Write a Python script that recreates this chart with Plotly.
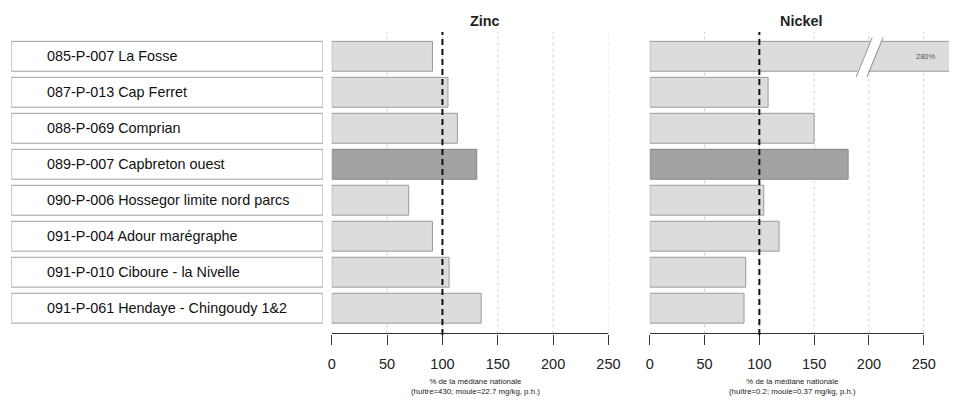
import plotly.graph_objects as go

# ---------------- data ----------------
stations = [
    "085-P-007 La Fosse",
    "087-P-013 Cap Ferret",
    "088-P-069 Comprian",
    "089-P-007 Capbreton ouest",
    "090-P-006 Hossegor limite nord parcs",
    "091-P-004 Adour marégraphe",
    "091-P-010 Ciboure - la Nivelle",
    "091-P-061 Hendaye - Chingoudy 1&2",
]
zinc = [91, 105, 113.5, 131, 69.5, 91, 106, 135]
nickel = [280, 108, 150, 181, 104, 118, 87.5, 86]
highlight = "089-P-007 Capbreton ouest"
tick_vals = [0, 50, 100, 150, 200, 250]
grid_vals = [50, 100, 150, 200, 250]
reference_line = 100
zinc_title = "Zinc"
nickel_title = "Nickel"
zinc_axis_label = "% de la médiane nationale<br>(huître=430; moule=22.7 mg/kg, p.h.)"
nickel_axis_label = "% de la médiane nationale<br>(huître=0.2; moule=0.37 mg/kg, p.h.)"
overflow_label = "280%"

# ---------------- layout helpers ----------------
W, H = 961, 407
FONT = "Liberation Sans, Arial, Helvetica, sans-serif"


def px_x(p):
    return p / W


def px_y(p):
    return 1 - p / H


LIGHT = "#dcdcdd"
DARK = "#a2a2a5"
EDGE = "#9a9a9a"

colors = [DARK if s == highlight else LIGHT for s in stations]
edges = ["#848486" if s == highlight else EDGE for s in stations]

BAR_W = 0.83

fig = go.Figure()

# label boxes
fig.add_trace(go.Bar(
    y=stations, x=[1] * len(stations), orientation="h", xaxis="x3", yaxis="y",
    width=BAR_W, marker=dict(color="white", line=dict(color="#a0a0a0", width=1)),
    hoverinfo="skip", showlegend=False,
))
# zinc bars
fig.add_trace(go.Bar(
    y=stations, x=zinc, orientation="h", xaxis="x", yaxis="y",
    width=BAR_W, marker=dict(color=colors, line=dict(color=edges, width=1)),
    showlegend=False, name=zinc_title,
))
# nickel bars
fig.add_trace(go.Bar(
    y=stations, x=nickel, orientation="h", xaxis="x2", yaxis="y",
    width=BAR_W, marker=dict(color=colors, line=dict(color=edges, width=1)),
    showlegend=False, name=nickel_title,
))

# axis geometry (pixels)
z0, z250 = 333.3, 614.7
n0, n250 = 656.7, 935.3
top_px, bot_px = 32, 333.5
nickel_max = 250 * (W - n0) / (n250 - n0)

xcommon = dict(
    tickvals=tick_vals, ticks="outside", ticklen=10, tickwidth=1, tickcolor="#333",
    showgrid=False, zeroline=False, ticklabelstandoff=7,
    tickfont=dict(family=FONT, size=14.5, color="#222"),
    fixedrange=True,
)

shapes = []
annotations = []

for xr, vals_max in (("x", 250), ("x2", 250)):
    for g in grid_vals:
        shapes.append(dict(type="line", xref=xr, yref="y domain", x0=g, x1=g, y0=0, y1=1,
                           line=dict(color="#cfcfcf", width=1, dash="dot"), layer="below"))
    # axis line
    shapes.append(dict(type="line", xref=xr, yref="y domain", x0=0, x1=vals_max, y0=0, y1=0,
                       line=dict(color="#333", width=1), layer="above"))
    # reference dashed line
    shapes.append(dict(type="line", xref=xr, yref="paper", x0=reference_line, x1=reference_line,
                       y0=px_y(bot_px + 1.5), y1=px_y(top_px),
                       line=dict(color="#111", width=2, dash="6px,4px"), layer="above"))

# break on the overflowing nickel bar
b_lo, b_hi = 188.9, 202.4     # left slash bottom / top (data units)
gap = 9.9
yt, yb = px_y(37.5), px_y(77)
yt_in, yb_in = px_y(40), px_y(72.6)
shapes.append(dict(type="path", xref="x2", yref="paper",
                   path=f"M {b_lo+0.3},{yb_in} L {b_hi-0.6},{yt_in} L {b_hi+gap-0.6},{yt_in} L {b_lo+gap+0.3},{yb_in} Z",
                   fillcolor="white", line=dict(width=0), layer="above"))
for off in (0, gap):
    shapes.append(dict(type="line", xref="x2", yref="paper",
                       x0=b_lo + off - 0.6, y0=yb, x1=b_hi + off + 0.6, y1=yt,
                       line=dict(color="#909090", width=1), layer="above"))

annotations.append(dict(text=overflow_label, xref="x2 domain", x=0.9616, xanchor="right",
                        yref="y", y=stations[0], yanchor="middle", showarrow=False,
                        font=dict(family=FONT, size=7.5, color="#555")))

# station names
for s in stations:
    annotations.append(dict(text=s, xref="paper", x=px_x(42), xanchor="left",
                            yref="y", y=s, yanchor="middle", showarrow=False,
                            font=dict(family=FONT, size=14.4, color="#111")))

# panel titles
for t, cx in ((zinc_title, 489), (nickel_title, 810)):
    annotations.append(dict(text=f"<b>{t}</b>", xref="paper", x=px_x(cx), xanchor="center",
                            yref="paper", y=px_y(20.7), yanchor="middle", showarrow=False,
                            font=dict(family=FONT, size=14.4, color="#222")))

# axis titles
for t, cx in ((zinc_axis_label, 479.3), (nickel_axis_label, 802)):
    annotations.append(dict(text=t, xref="paper", x=px_x(cx), xanchor="center",
                            yref="paper", y=px_y(386), yanchor="middle", showarrow=False,
                            font=dict(family=FONT, size=7.8, color="#222")))

# y range so that rows land at pixel centres 56.3 .. 308.2
pitch = (308.2 - 56.3) / 7
y_top = 0 - (56.3 - top_px) / pitch
y_bot = 7 + (bot_px - 308.2) / pitch

fig.update_layout(
    width=W, height=H,
    margin=dict(l=0, r=0, t=0, b=0),
    paper_bgcolor="white", plot_bgcolor="rgba(0,0,0,0)",
    barmode="overlay",
    font=dict(family=FONT),
    xaxis=dict(domain=[px_x(z0), px_x(z250)], range=[0, 250], anchor="y", **xcommon),
    xaxis2=dict(domain=[px_x(n0), 1], range=[0, nickel_max], anchor="y", **xcommon),
    xaxis3=dict(domain=[px_x(7.3), px_x(324.3)], range=[0, 1], anchor="y",
                visible=False, fixedrange=True),
    yaxis=dict(domain=[px_y(bot_px), px_y(top_px)], type="category",
               categoryorder="array", categoryarray=stations,
               range=[y_bot, y_top], showticklabels=False, showgrid=False,
               zeroline=False, showline=False, ticks="", fixedrange=True),
    shapes=shapes,
    annotations=annotations,
)

fig.write_html(
    "out.html",
    config={"displayModeBar": False},
    post_script="document.body.style.margin='0';document.body.style.overflow='hidden';",
)
